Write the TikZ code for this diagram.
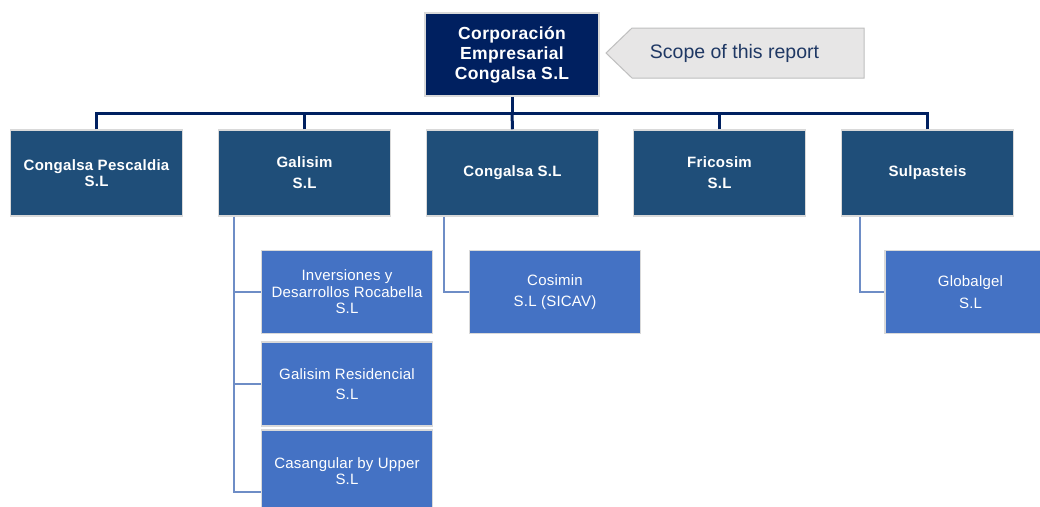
\documentclass[tikz,border=0pt]{standalone}
\usepackage{fontspec}
\setmainfont{Liberation Sans}
\definecolor{navy}{HTML}{002060}
\definecolor{steel}{HTML}{1F4E79}
\definecolor{mid}{HTML}{4472C4}
\definecolor{edge}{HTML}{D9D9D9}
\definecolor{sub}{HTML}{6E8DC6}
\definecolor{callfill}{HTML}{E7E6E6}
\definecolor{calledge}{HTML}{BFBFBF}
\definecolor{calltext}{HTML}{1F3864}
\tikzset{
  topbox/.style={draw=edge, line width=1.5pt, fill=navy, text=white, align=center,
    minimum width=174pt, minimum height=83pt, inner sep=0pt,
    font=\fontsize{17.5}{20}\selectfont\bfseries\addfontfeatures{LetterSpace=2}},
  lvltwo/.style={draw=edge, line width=1.5pt, fill=steel, text=white, align=center,
    minimum width=172pt, minimum height=86pt, inner sep=0pt,
    font=\fontsize{15}{16}\selectfont\bfseries\addfontfeatures{LetterSpace=2}},
  lvlthree/.style={draw=edge, line width=1.5pt, fill=mid, text=white, align=center,
    minimum width=171pt, minimum height=83pt, inner sep=0pt,
    font=\fontsize{15}{16.5}\selectfont\addfontfeatures{LetterSpace=1.5}},
  bus/.style={draw=navy, line width=3pt},
  subline/.style={draw=sub, line width=2pt},
}
\begin{document}
\begin{tikzpicture}[x=1pt, y=-1pt]
\useasboundingbox (0,0) rectangle (1040,506);
\clip (0,0) rectangle (1040,506);
\fill[white] (0,0) rectangle (1040,506);

% top
\node[topbox] (top) at (512,54.5) {Corporación\\Empresarial\\Congalsa S.L};

% callout
\draw[draw=calledge, fill=callfill, line width=1pt] (606,53) -- (632,28) -- (864,28) -- (864,78) -- (632,78) -- cycle;
\node[text=calltext, font=\fontsize{19.5}{22}\selectfont, inner sep=0pt] (scope) at (734.5,53) {Scope of this report};

% level two
\node[lvltwo] (b1) at (96.5,173) {Congalsa Pescaldia\\S.L};
\node[lvltwo] (b2) at (304.5,173) {Galisim\\[5pt]S.L};
\node[lvltwo] (b3) at (512.5,173) {Congalsa S.L};
\node[lvltwo] (b4) at (719.5,173) {Fricosim\\[5pt]S.L};
\node[lvltwo] (b5) at (927.5,173) {Sulpasteis};

% level three
\node[lvlthree] (c1) at (347,292) {Inversiones y\\Desarrollos Rocabella\\S.L};
\node[lvlthree, minimum height=84pt] (c2) at (347,384) {Galisim Residencial\\[4pt]S.L};
\node[lvlthree, minimum height=82pt] (c3) at (347,471) {Casangular by Upper\\S.L};
\node[lvlthree] (d1) at (555,292) {Cosimin\\[5pt]S.L (SICAV)};
\node[lvlthree] (e1) at (970.5,292) {Globalgel\\[5pt]S.L};

% bus
\coordinate (busc) at (512,113);
\draw[bus] (top.south) -- (busc);
\draw[bus] (b1.north) |- (busc);
\draw[bus] (b2.north) |- (busc);
\draw[bus] (b3.north) -- (busc);
\draw[bus] (b4.north) |- (busc);
\draw[bus] (b5.north) |- (busc);

% sub connectors
\draw[subline] ([xshift=16pt]b2.south west) |- (c1.west);
\draw[subline] ([xshift=16pt]b2.south west) |- (c2.west);
\draw[subline] ([xshift=16pt]b2.south west) |- ([yshift=-21pt]c3.west);
\draw[subline] ([xshift=18pt]b3.south west) |- (d1.west);
\draw[subline] ([xshift=19pt]b5.south west) |- (e1.west);
\end{tikzpicture}
\end{document}
